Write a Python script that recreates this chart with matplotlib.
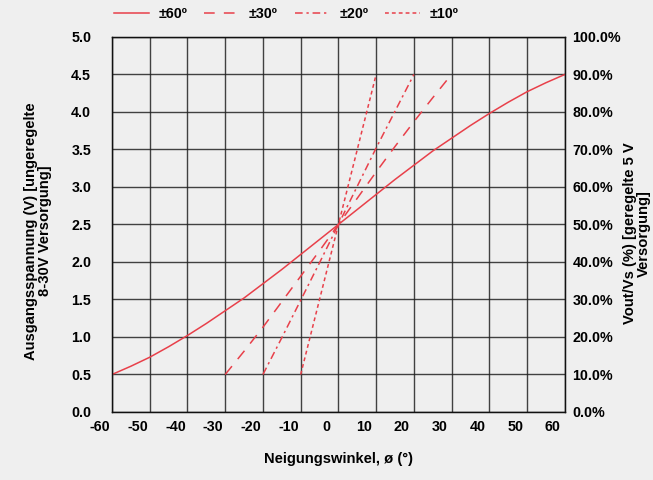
import matplotlib
matplotlib.use("Agg")
import matplotlib.pyplot as plt
from matplotlib.transforms import ScaledTranslation

# ---- data ----
x60 = [-60, -55, -50, -45, -40, -35, -30, -25, -20, -15, -10, -5, 0,
       5, 10, 15, 20, 25, 30, 35, 40, 45, 50, 55, 60]
y60 = [0.50, 0.61, 0.73, 0.87, 1.02, 1.18, 1.35, 1.52, 1.71, 1.90, 2.10, 2.30, 2.50,
       2.70, 2.90, 3.10, 3.29, 3.48, 3.65, 3.82, 3.98, 4.13, 4.27, 4.39, 4.50]

x30 = [-30, -25, -20, -15, -10, -5, 0, 5, 10, 15, 20, 25, 29]
y30 = [0.50, 0.81, 1.13, 1.47, 1.81, 2.15, 2.50, 2.85, 3.20, 3.54, 3.87, 4.19, 4.44]

x20 = [-20, -15, -10, -5, 0, 5, 10, 15, 20]
y20 = [0.50, 0.99, 1.49, 1.99, 2.50, 3.01, 3.52, 4.01, 4.50]

x10 = [-10, -7.5, -5, -2.5, 0, 2.5, 5, 7.5, 10]
y10 = [0.50, 1.00, 1.50, 2.00, 2.50, 3.00, 3.50, 4.00, 4.50]

labels = ["±60º", "±30º", "±20º", "±10º"]
xticks = list(range(-60, 61, 10))
yticks = [i * 0.5 for i in range(11)]
pticks = [i * 10 for i in range(11)]

red = "#e8404a"
bg = "#efefef"
fs = 10.3
fl = 10.6

plt.rcParams["font.family"] = ["Liberation Sans", "DejaVu Sans"]
plt.rcParams["font.weight"] = "bold"
plt.rcParams["axes.labelweight"] = "bold"

fig = plt.figure(figsize=(6.53, 4.8), dpi=100, facecolor=bg)
ax = fig.add_axes([0.1715, 0.1417, 0.6935, 0.7813])
ax.set_facecolor(bg)

l1, = ax.plot(x60, y60, color=red, lw=1.1, ls="-")
l2, = ax.plot(x30, y30, color=red, lw=1.1, ls=(0, (7, 6)))
l3, = ax.plot(x20, y20, color=red, lw=1.1, ls=(0, (5, 2.5, 1.5, 2.5)))
l4, = ax.plot(x10, y10, color=red, lw=1.1, ls=(0, (2.5, 2)))

ax.set_xlim(-60, 60)
ax.set_ylim(0, 5)
ax.set_xticks(xticks)
ax.set_xticklabels([str(v) for v in xticks])
ax.set_yticks(yticks)
ax.set_yticklabels([f"{v:.1f}" for v in yticks])
ax.grid(True, color="#222222", lw=1.0, alpha=0.85)
ax.set_axisbelow(True)
ax.tick_params(axis="both", length=0, labelsize=fs)
ax.tick_params(axis="y", pad=15)
ax.tick_params(axis="x", pad=6)
for s in ax.spines.values():
    s.set_color("#111111")
    s.set_linewidth(1.0)

off = ScaledTranslation(-12 / 100, 0, fig.dpi_scale_trans)
for lab in ax.get_xticklabels():
    lab.set_transform(lab.get_transform() + off)

ax2 = ax.twinx()
ax2.set_ylim(0, 100)
ax2.set_yticks(pticks)
ax2.set_yticklabels([f"{v:.1f}%" for v in pticks])
ax2.tick_params(axis="y", length=0, labelsize=fs, pad=5.5)
for s in ax2.spines.values():
    s.set_color("#111111")

ax.set_xlabel("Neigungswinkel, ø (°)", fontsize=fl, labelpad=13, fontweight="bold")
fig.text(0.0575, 0.519, "Ausgangsspannung (V) [ungeregelte\n8-30V Versorgung]",
         rotation=90, ha="center", va="center", fontsize=fl, multialignment="center",
         linespacing=1.0, fontweight="bold")
fig.text(0.976, 0.514, "Vout/Vs (%) [geregelte 5 V\nVersorgung]",
         rotation=90, ha="center", va="center", fontsize=fl, multialignment="center",
         linespacing=1.0, fontweight="bold")

fig.legend([l1, l2, l3, l4], labels, loc="upper left", bbox_to_anchor=(0.155, 1.012),
           ncol=4, frameon=False, fontsize=fs, handlelength=2.45, columnspacing=1.2,
           handletextpad=0.65)

fig.savefig("out.png", dpi=100, facecolor=bg)
